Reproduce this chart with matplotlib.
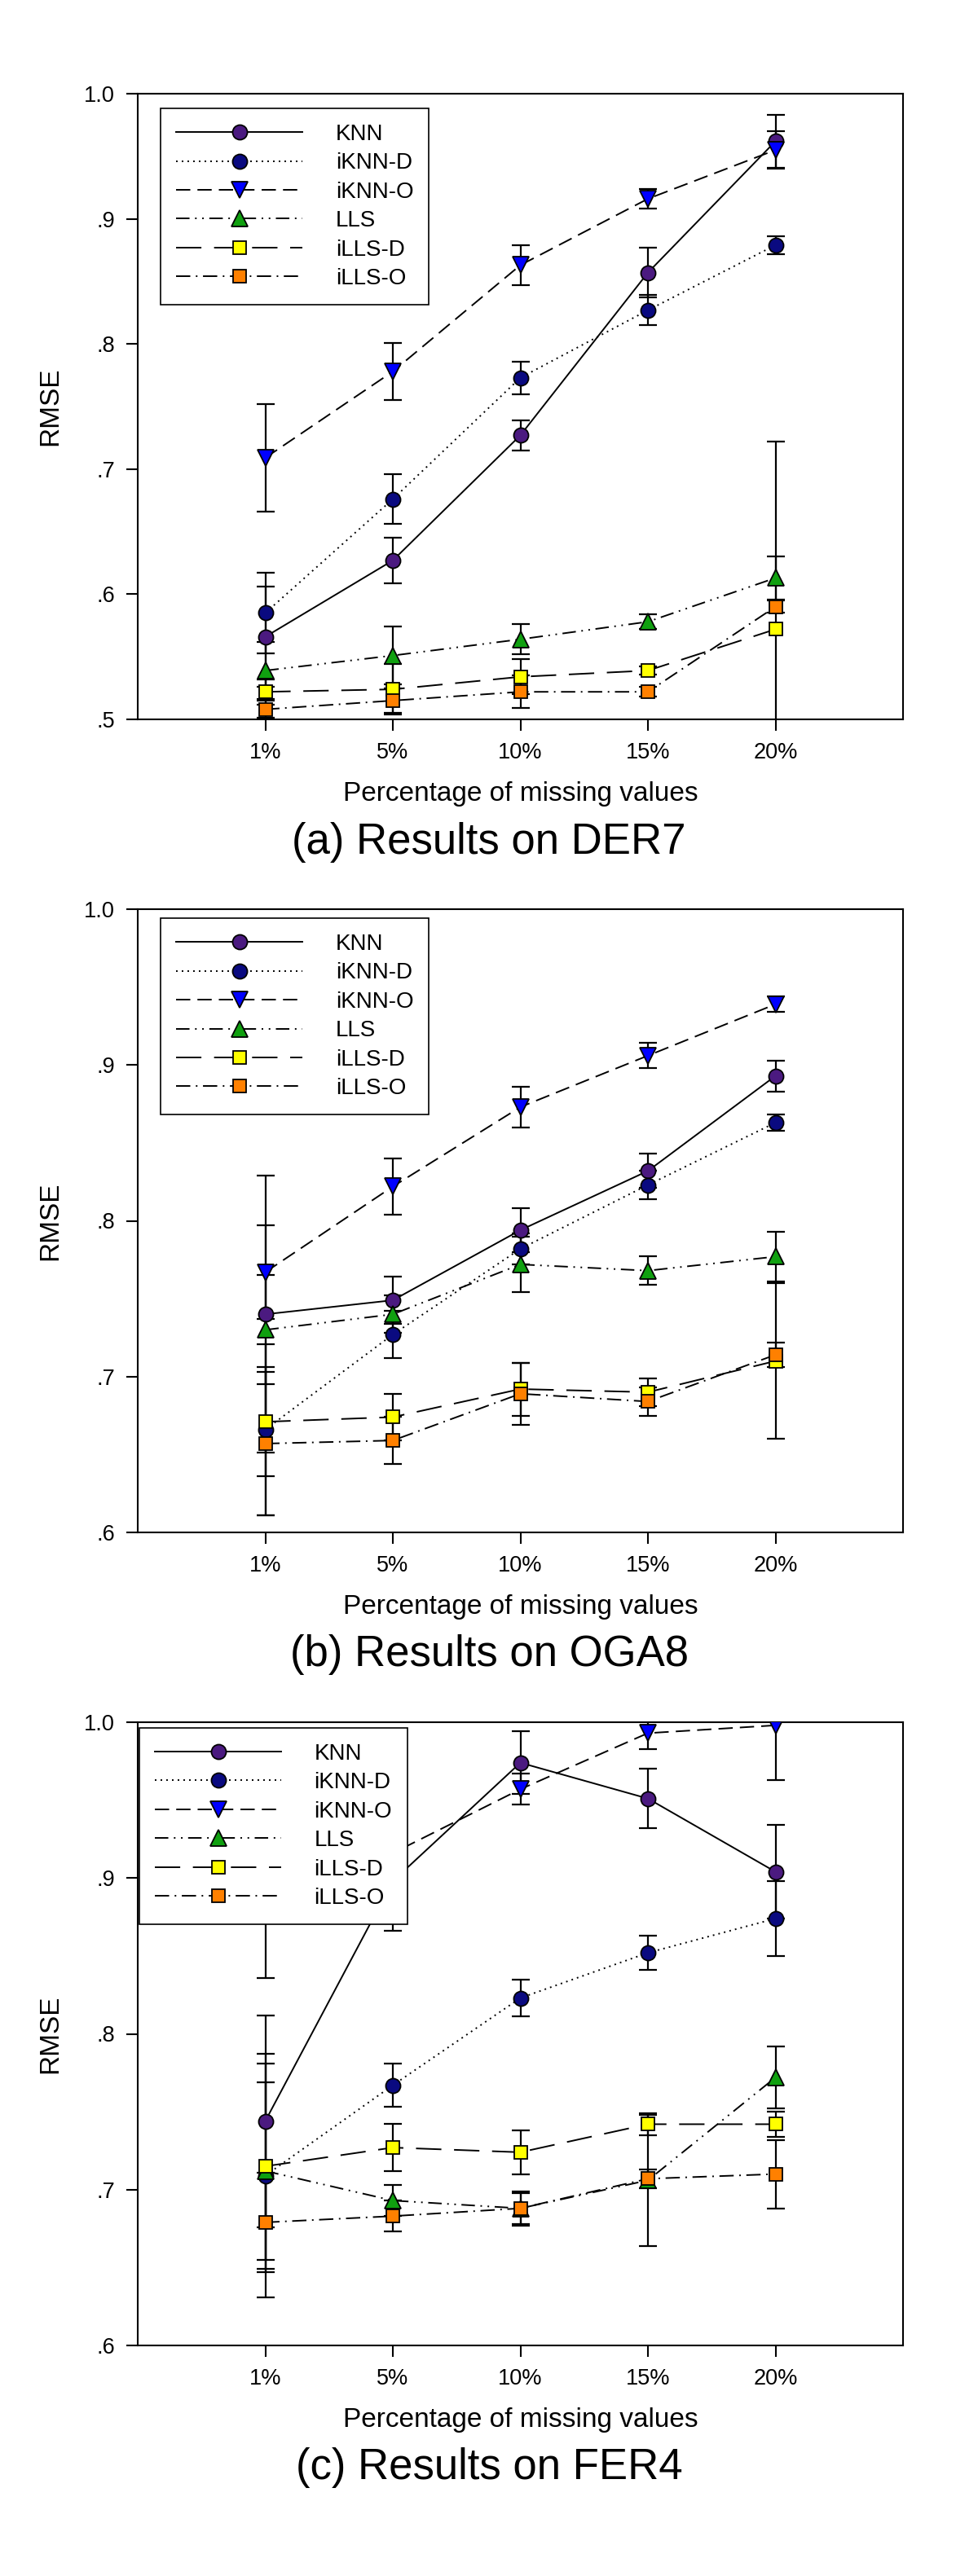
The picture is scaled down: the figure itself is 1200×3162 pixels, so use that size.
import numpy as np
import matplotlib.pyplot as plt
from matplotlib.lines import Line2D

plt.rcParams['font.family'] = ['Liberation Sans', 'DejaVu Sans']

pct_labels = ['1%', '5%', '10%', '15%', '20%']
methods = ['KNN', 'iKNN-D', 'iKNN-O', 'LLS', 'iLLS-D', 'iLLS-O']

# (a) DER7
der7_knn = [0.566, 0.627, 0.727, 0.857, 0.962]
der7_knn_err = [0.040, 0.018, 0.012, 0.020, 0.021]
der7_iknn_d = [0.585, 0.676, 0.773, 0.827, 0.879]
der7_iknn_d_err = [0.032, 0.020, 0.013, 0.012, 0.007]
der7_iknn_o = [0.709, 0.778, 0.863, 0.916, 0.955]
der7_iknn_o_err = [0.043, 0.023, 0.016, 0.008, 0.015]
der7_lls = [0.539, 0.551, 0.564, 0.578, 0.613]
der7_lls_err = [0.023, 0.023, 0.012, 0.006, 0.017]
der7_ills_d = [0.522, 0.524, 0.534, 0.539, 0.572]
der7_ills_d_err = [0.010, 0.020, 0.014, 0.003, 0.150]
der7_ills_o = [0.508, 0.515, 0.522, 0.522, 0.590]
der7_ills_o_err = [0.007, 0.010, 0.013, 0.004, 0.005]

# (b) OGA8
oga8_knn = [0.740, 0.749, 0.794, 0.832, 0.893]
oga8_knn_err = [0.089, 0.015, 0.014, 0.011, 0.010]
oga8_iknn_d = [0.666, 0.727, 0.782, 0.823, 0.863]
oga8_iknn_d_err = [0.055, 0.015, 0.010, 0.009, 0.005]
oga8_iknn_o = [0.767, 0.822, 0.873, 0.906, 0.939]
oga8_iknn_o_err = [0.030, 0.018, 0.013, 0.008, 0.005]
oga8_lls = [0.730, 0.740, 0.772, 0.768, 0.777]
oga8_lls_err = [0.035, 0.012, 0.018, 0.009, 0.016]
oga8_ills_d = [0.671, 0.674, 0.692, 0.690, 0.710]
oga8_ills_d_err = [0.035, 0.015, 0.017, 0.009, 0.050]
oga8_ills_o = [0.657, 0.659, 0.689, 0.684, 0.714]
oga8_ills_o_err = [0.046, 0.015, 0.020, 0.009, 0.008]

# (c) FER4
fer4_knn = [0.744, 0.898, 0.974, 0.951, 0.904]
fer4_knn_err = [0.068, 0.032, 0.020, 0.019, 0.030]
fer4_iknn_d = [0.709, 0.767, 0.823, 0.852, 0.874]
fer4_iknn_d_err = [0.078, 0.014, 0.012, 0.011, 0.024]
fer4_iknn_o = [0.880, 0.916, 0.957, 0.993, 0.998]
fer4_iknn_o_err = [0.044, 0.020, 0.010, 0.010, 0.035]
fer4_lls = [0.712, 0.693, 0.688, 0.706, 0.772]
fer4_lls_err = [0.057, 0.010, 0.010, 0.042, 0.020]
fer4_ills_d = [0.715, 0.727, 0.724, 0.742, 0.742]
fer4_ills_d_err = [0.066, 0.015, 0.014, 0.007, 0.008]
fer4_ills_o = [0.679, 0.683, 0.688, 0.707, 0.710]
fer4_ills_o_err = [0.032, 0.010, 0.011, 0.006, 0.022]

# line / marker styles, same order as methods
styles = [
    dict(ls='-', marker='o', mfc='#4b1a80', ms=13),
    dict(ls=(0, (1, 2.6)), marker='o', mfc='#0a0a80', ms=13),
    dict(ls=(0, (9, 4.5)), marker='v', mfc='#0000ff', ms=14),
    dict(ls=(0, (8.5, 3.5, 1, 3.5, 1, 3.5)), marker='^', mfc='#10a010', ms=14),
    dict(ls=(0, (16, 8)), marker='s', mfc='#ffff00', ms=12),
    dict(ls=(0, (9, 3.5, 1, 3.5)), marker='s', mfc='#ff8000', ms=12),
]

LW = 1.4
TICK_FS = 19.5
LEG_FS = 20
LABEL_FS = 24
TITLE_FS = 38


def draw_panel(ax, means, errs, ymin, title, title_y, leg_anchor):
    x = np.arange(1, len(pct_labels) + 1)
    for m, e, st in zip(means, errs, styles):
        ax.plot(x, m, color='black', lw=LW, linestyle=st['ls'], zorder=2)
        ax.errorbar(x, m, yerr=e, fmt='none', ecolor='black',
                    elinewidth=1.6, capsize=8, capthick=1.6, zorder=2.5)
    for m, st in zip(means, styles):
        ax.plot(x, m, linestyle='none', marker=st['marker'], ms=st['ms'],
                mfc=st['mfc'], mec='black', mew=1.3, zorder=3)

    ax.set_xlim(0, 6)
    ax.set_ylim(ymin, 1.0)
    ax.set_xticks(x)
    ax.set_xticklabels(pct_labels)
    yt = np.round(np.arange(ymin, 1.0001, 0.1), 1)
    ax.set_yticks(yt)
    ax.set_yticklabels(['1.0' if v >= 1 else ('%.1f' % v)[1:] for v in yt])
    ax.tick_params(direction='out', length=10, width=1.5, pad=10,
                   labelsize=TICK_FS, top=False, right=False)
    for sp in ax.spines.values():
        sp.set_linewidth(1.5)

    ax.set_xlabel('Percentage of missing values', fontsize=LABEL_FS, va='baseline')
    ax.xaxis.set_label_coords(0.5, -100 / 768)
    ax.set_ylabel('RMSE', fontsize=LABEL_FS, va='center')
    ax.yaxis.set_label_coords(-0.114, 0.5)

    handles = [Line2D([], [], color='black', lw=LW, linestyle=st['ls'],
                      marker=st['marker'], ms=st['ms'], mfc=st['mfc'],
                      mec='black', mew=1.3) for st in styles]
    leg = ax.legend(handles, methods, loc='upper left', bbox_to_anchor=leg_anchor,
                    borderaxespad=0, fontsize=LEG_FS, handlelength=5.6,
                    handletextpad=1.45, borderpad=0.68, labelspacing=0.34,
                    fancybox=False, framealpha=1, edgecolor='black', numpoints=1)
    leg.get_frame().set_linewidth(1.2)
    leg.set_zorder(5)

    fig.text(0.5, title_y, title, ha='center', va='baseline', fontsize=TITLE_FS)


fig = plt.figure(figsize=(12, 31.62), dpi=100)
left, width = 169 / 1200, 939 / 1200

ax_a = fig.add_axes([left, 1 - 883 / 3162, width, 768 / 3162])
draw_panel(ax_a,
           [der7_knn, der7_iknn_d, der7_iknn_o, der7_lls, der7_ills_d, der7_ills_o],
           [der7_knn_err, der7_iknn_d_err, der7_iknn_o_err, der7_lls_err,
            der7_ills_d_err, der7_ills_o_err],
           0.5, '(a) Results on DER7', 1 - 1048 / 3162, (0.0298, 0.9766))

ax_b = fig.add_axes([left, 1 - 1881 / 3162, width, 765 / 3162])
draw_panel(ax_b,
           [oga8_knn, oga8_iknn_d, oga8_iknn_o, oga8_lls, oga8_ills_d, oga8_ills_o],
           [oga8_knn_err, oga8_iknn_d_err, oga8_iknn_o_err, oga8_lls_err,
            oga8_ills_d_err, oga8_ills_o_err],
           0.6, '(b) Results on OGA8', 1 - 2045 / 3162, (0.0298, 0.9856))

ax_c = fig.add_axes([left, 1 - 2879 / 3162, width, 765 / 3162])
draw_panel(ax_c,
           [fer4_knn, fer4_iknn_d, fer4_iknn_o, fer4_lls, fer4_ills_d, fer4_ills_o],
           [fer4_knn_err, fer4_iknn_d_err, fer4_iknn_o_err, fer4_lls_err,
            fer4_ills_d_err, fer4_ills_o_err],
           0.6, '(c) Results on FER4', 1 - 3043 / 3162, (0.002, 0.991))

fig.savefig('out.png', dpi=100)
